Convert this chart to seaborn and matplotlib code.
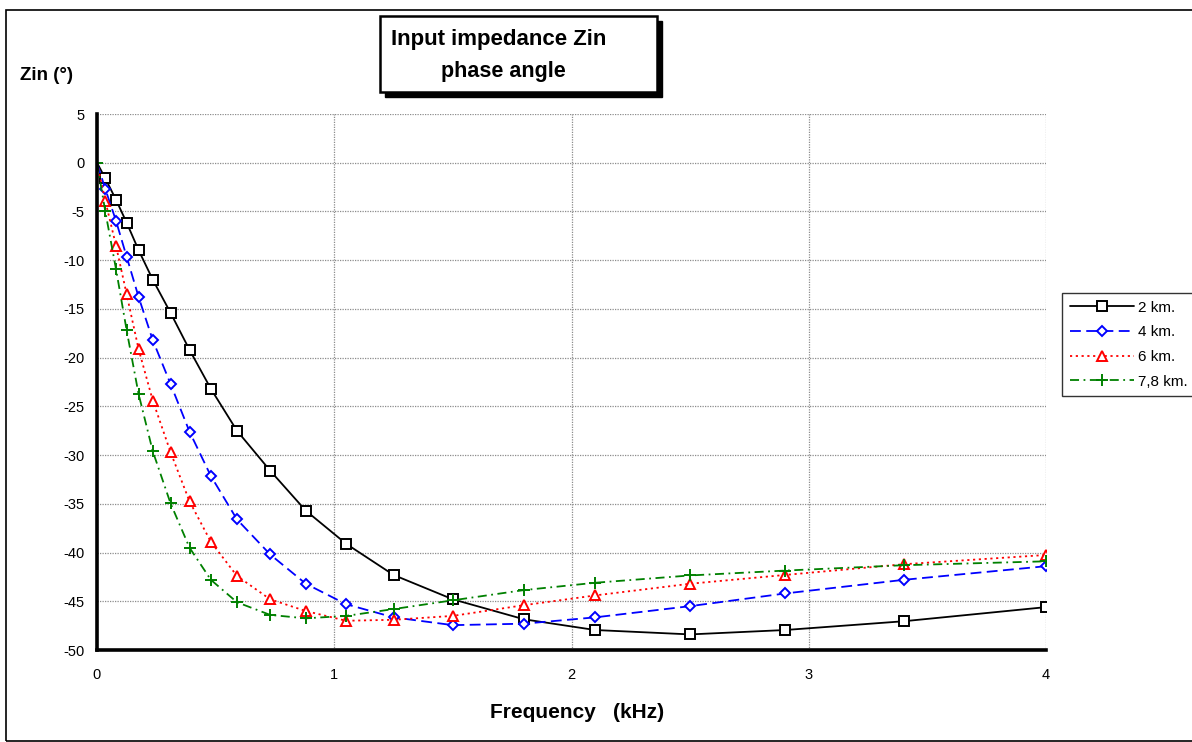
import numpy as np
import pandas as pd
import matplotlib
matplotlib.use("Agg")
import matplotlib.pyplot as plt
import seaborn as sns
from matplotlib.patches import Rectangle
from matplotlib.lines import Line2D

# ---- data ----
freq_khz = [0, 0.035, 0.08, 0.125, 0.175, 0.235, 0.31, 0.39, 0.48, 0.59, 0.73,
            0.88, 1.05, 1.25, 1.5, 1.8, 2.1, 2.5, 2.9, 3.4, 4.0]
phase_2km = [0, -1.6, -3.8, -6.15, -8.95, -12.0, -15.4, -19.2, -23.2, -27.5, -31.6,
             -35.7, -39.1, -42.3, -44.8, -46.85, -47.95, -48.4, -47.95, -47.05, -45.6]
phase_4km = [0, -2.7, -5.95, -9.65, -13.75, -18.2, -22.7, -27.6, -32.15, -36.6, -40.2,
             -43.2, -45.3, -46.65, -47.45, -47.3, -46.65, -45.5, -44.2, -42.8, -41.4]
phase_6km = [0, -3.9, -8.5, -13.5, -19.1, -24.4, -29.7, -34.75, -38.9, -42.4, -44.8,
             -46.0, -47.0, -46.9, -46.5, -45.4, -44.4, -43.2, -42.3, -41.2, -40.25]
phase_78km = [0, -5.0, -10.9, -17.2, -23.7, -29.6, -34.95, -39.5, -42.8, -45.1, -46.4,
              -46.75, -46.5, -45.8, -44.9, -43.85, -43.1, -42.35, -41.85, -41.3, -40.9]
series_labels = ["2 km.", "4 km.", "6 km.", "7,8 km."]
x_ticks = [0, 1, 2, 3, 4]
y_ticks = [5, 0, -5, -10, -15, -20, -25, -30, -35, -40, -45, -50]

sns.set_theme(style="white")
plt.rcParams["font.family"] = ["Liberation Sans", "DejaVu Sans"]
plt.rcParams["text.color"] = "black"
plt.rcParams["axes.labelcolor"] = "black"
plt.rcParams["xtick.color"] = "black"
plt.rcParams["ytick.color"] = "black"

W, H = 1192, 742
fig = plt.figure(figsize=(W / 100, H / 100), dpi=100)
fig.patch.set_facecolor("white")

def fx(px):
    return px / W

def fy(py):
    return 1 - py / H

ax = fig.add_axes([fx(97), fy(650), fx(1046) - fx(97), fy(114) - fy(650)])

styles = [
    dict(color="black", linestyle="-", marker="s", ms=6.5, first=False),
    dict(color="#0000ff", linestyle=(0, (6, 3)), marker="D", ms=5.5, first=False),
    dict(color="#ff0000", linestyle=(0, (1.2, 2)), marker="^", ms=7.5, first=False),
    dict(color="#008000", linestyle=(0, (5, 2.5, 1, 2.5)), marker="+", ms=9, first=True),
]
all_series = [phase_2km, phase_4km, phase_6km, phase_78km]

handles = []
for vals, st, lab in zip(all_series, styles, series_labels):
    df = pd.DataFrame({"f": freq_khz, "p": vals})
    me = None if st["first"] else list(range(1, len(freq_khz)))
    sns.lineplot(data=df, x="f", y="p", ax=ax, color=st["color"],
                 linestyle=st["linestyle"], linewidth=1.3, marker=st["marker"],
                 markersize=st["ms"], markerfacecolor="white",
                 markeredgecolor=st["color"], markeredgewidth=1.4,
                 markevery=me, sort=False, estimator=None, legend=False)
    handles.append(Line2D([0], [0], color=st["color"], linestyle=st["linestyle"],
                          linewidth=1.3, marker=st["marker"], markersize=st["ms"],
                          markerfacecolor="white", markeredgecolor=st["color"],
                          markeredgewidth=1.4, label=lab))

ax.set_xlim(0, 4)
ax.set_ylim(-50, 5)
ax.set_xticks(x_ticks)
ax.set_yticks(y_ticks)
ax.set_xticklabels([str(v) for v in x_ticks])
ax.set_yticklabels([str(v) for v in y_ticks])
ax.tick_params(axis="both", length=0, labelsize=10.5, colors="black")
ax.tick_params(axis="y", pad=9)
ax.tick_params(axis="x", pad=13)
ax.set_xlabel("")
ax.set_ylabel("")
ax.grid(True, color="#8c8c8c", linestyle=(0, (1, 1)), linewidth=0.9)
ax.set_axisbelow(True)
for s in ["top", "right"]:
    ax.spines[s].set_visible(False)
for s in ["left", "bottom"]:
    ax.spines[s].set_visible(True)
    ax.spines[s].set_color("black")
    ax.spines[s].set_linewidth(2.6)
ax.set_facecolor("white")

# axis titles
fig.text(fx(577), fy(712), "Frequency   (kHz)", ha="center", va="center",
         fontsize=15, fontweight="bold", color="black")
fig.text(fx(20), fy(76), "Zin (°)", ha="left", va="center",
         fontsize=13.5, fontweight="bold", color="black")

# title box with shadow
fig.patches.append(Rectangle((fx(385), fy(97)), fx(662) - fx(385), fy(21) - fy(97),
                             transform=fig.transFigure, facecolor="black",
                             edgecolor="black", zorder=1))
fig.patches.append(Rectangle((fx(380), fy(92)), fx(657) - fx(380), fy(16) - fy(92),
                             transform=fig.transFigure, facecolor="white",
                             edgecolor="black", linewidth=1.8, zorder=2))
fig.text(fx(499), fy(40), "Input impedance Zin", ha="center", va="center",
         fontsize=16, fontweight="bold", color="black", zorder=3)
fig.text(fx(503), fy(72), "phase angle", ha="center", va="center",
         fontsize=15.5, fontweight="bold", color="black", zorder=3)

# figure border
fig.patches.append(Rectangle((fx(6), fy(741)), fx(1300) - fx(6), fy(10) - fy(741),
                             transform=fig.transFigure, facecolor="none",
                             edgecolor="black", linewidth=1.2, zorder=0))

leg = fig.legend(handles=handles, loc="upper left",
                 bbox_to_anchor=(fx(1062), fy(293)), bbox_transform=fig.transFigure,
                 frameon=True, fancybox=False, shadow=False, fontsize=11,
                 handlelength=4.2, handletextpad=0.3, borderpad=0.5,
                 labelspacing=0.7, borderaxespad=0)
leg.get_frame().set_edgecolor("black")
leg.get_frame().set_linewidth(1.0)
for t in leg.get_texts():
    t.set_color("black")

fig.savefig("out.png", dpi=100, facecolor="white")
